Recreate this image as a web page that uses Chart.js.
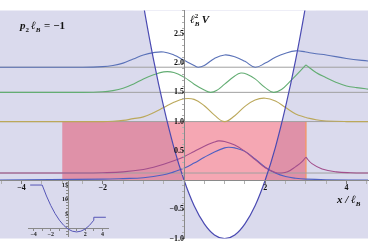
<!DOCTYPE html>
<html><head><meta charset="utf-8">
<script src="https://cdn.jsdelivr.net/npm/chart.js@4"></script>
<style>
html,body{margin:0;padding:0;background:#fff;}
#wrap{position:relative;width:374px;height:243px;overflow:hidden;}
#main{position:absolute;left:0;top:0;}
#inset{position:absolute;left:26px;top:179px;}
</style></head><body>
<div id="wrap"><canvas id="main" width="374" height="243"></canvas><canvas id="inset" width="84" height="62"></canvas></div>
<script>
const FONT = '"Liberation Serif", "DejaVu Serif", serif';

// ---- main panel data (x / ℓB, ℓB² V) ----
const potX = [-1.25,-1,-0.75,-0.5,-0.25,0,0.25,0.5,0.75,1,1.25,1.5,1.75,2,2.25,2.5,2.75,3,3.25];
const potV = [4.06,3,2.06,1.25,0.56,0,-0.44,-0.75,-0.94,-1,-0.94,-0.75,-0.44,0,0.56,1.25,2.06,3,4.06];

const levelValues = [1.93, 1.5, 1.0, 0.12];

const blueTopX = [-4.6,-2.5,-2,-1.75,-1.5,-1.25,-1,-0.75,-0.5,-0.25,0,0.25,0.35,0.5,0.75,1,1.25,1.5,1.75,2,2.25,2.5,2.75,3,3.25,3.5,4,4.6];
const blueTopY = [1.93,1.93,1.94,1.96,2.0,2.07,2.14,2.18,2.19,2.14,2.05,1.96,1.93,1.96,2.08,2.14,2.11,2.03,1.93,2.0,2.1,2.17,2.21,2.19,2.16,2.14,2.08,2.03];

const greenX = [-4.6,-2.5,-2,-1.75,-1.5,-1.25,-1,-0.75,-0.5,-0.25,0,0.25,0.5,0.65,0.8,1,1.25,1.4,1.55,1.75,2,2.2,2.4,2.6,2.8,3,3.25,3.5,3.75,4,4.25,4.6];
const greenY = [1.5,1.5,1.51,1.53,1.57,1.64,1.73,1.8,1.85,1.84,1.76,1.64,1.54,1.5,1.53,1.64,1.78,1.83,1.81,1.73,1.58,1.5,1.55,1.68,1.82,1.97,1.84,1.75,1.67,1.61,1.58,1.55];

const yellowX = [-4.6,-2,-1.75,-1.5,-1.25,-1,-0.75,-0.5,-0.25,0,0.25,0.5,0.75,1,1.25,1.5,1.75,2,2.25,2.5,2.75,3,3.25,3.5,4,4.6];
const yellowY = [1.0,1.0,1.005,1.02,1.05,1.08,1.15,1.24,1.33,1.39,1.38,1.27,1.11,1.0,1.1,1.26,1.37,1.4,1.35,1.24,1.13,1.07,1.03,1.01,1.0,1.0];

const magentaX = [-4.6,-2.5,-2,-1.5,-1,-0.75,-0.5,-0.25,0,0.25,0.5,0.75,0.85,1,1.25,1.5,1.75,2,2.25,2.4,2.55,2.75,2.9,3,3.15,3.4,3.75,4.1,4.6];
const magentaY = [0.12,0.12,0.125,0.14,0.18,0.22,0.27,0.33,0.4,0.49,0.58,0.65,0.67,0.66,0.6,0.49,0.35,0.21,0.13,0.12,0.14,0.23,0.31,0.39,0.28,0.19,0.14,0.125,0.12];

const blueLowX = [-4.6,-2,-1.5,-1,-0.5,-0.25,0,0.25,0.5,0.75,1,1.1,1.25,1.5,1.75,2,2.25,2.5,2.75,3,3.5,4.6];
const blueLowY = [0.0,0.015,0.025,0.04,0.09,0.14,0.2,0.29,0.39,0.48,0.55,0.56,0.55,0.49,0.36,0.22,0.12,0.06,0.03,0.015,0.005,0.0];

const rectX = [-3,-3,3,3];
const rectY = [0,1,1,0];

const xTickValues = [-4,-2,2,4];
const xTickLabels = ['−4','−2','2','4'];
const yTickValues = [-1,-0.5,0.5,1,1.5,2,2.5];
const yTickLabels = ['−1.0','−0.5','0.5','1.0','1.5','2.0','2.5'];

// ---- inset data (V vs x) ----
const insetX = [-4.4,-3,-2.5,-2,-1.5,-1,-0.5,0,0.5,1,1.5,2,2.5,3,3,4.4];
const insetV = [15,15,11.25,8,5.25,3,1.25,0,-0.75,-1,-0.75,0,1.25,3,4,4];
const insetXTickValues = [-4,-2,2,4];
const insetXTickLabels = ['−4','−2','2','4'];
const insetYTickValues = [5,10,15];
const insetYTickLabels = ['5','10','15'];

// ---- helpers ----
function pts(xs, ys){ return xs.map((x,i)=>({x:x, y:ys[i]})); }
function split(xs, ys, xc){
  const a=[], b=[];
  xs.forEach((x,i)=>{ if(x<=xc) a.push({x:x,y:ys[i]}); if(x>=xc) b.push({x:x,y:ys[i]}); });
  return [a,b];
}
function labelFor(v, vals, labs){
  for(let i=0;i<vals.length;i++){ if(Math.abs(v-vals[i])<1e-6) return labs[i]; }
  return '';
}
function isMajor(v, vals){ return vals.some(t=>Math.abs(t-v)<1e-6); }
function curve(data, color, order){
  return {data:data, borderColor:color, borderWidth:1.1, pointRadius:0, tension:0.4, fill:false, order:order};
}
const zeroPad = s => { s.paddingLeft=0; s.paddingRight=0; s.paddingTop=0; s.paddingBottom=0; };

const C = {
  lav:'#dadaed', parab:'#4a4ab2', blueTop:'#5a72b8', green:'#63ad73', yellow:'#bba85a',
  magenta:'#a24e8c', blueLow:'#4e60c2', level:'#a0a0a0', rect:'rgba(232,45,75,0.42)', axis:'#8a8a8a'
};

const datasets = [];
datasets.push({data:pts(potX,potV), borderColor:C.parab, borderWidth:1.2, pointRadius:0, tension:0.4, fill:false, order:5});
split(blueTopX, blueTopY, 3).forEach(d=>datasets.push(curve(d, C.blueTop, 20)));
split(greenX, greenY, 3).forEach(d=>datasets.push(curve(d, C.green, 21)));
split(yellowX, yellowY, 3).forEach(d=>datasets.push(curve(d, C.yellow, 22)));
split(magentaX, magentaY, 3).forEach(d=>datasets.push(curve(d, C.magenta, 23)));
datasets.push(curve(pts(blueLowX, blueLowY), C.blueLow, 24));
levelValues.forEach(L=>datasets.push({data:[{x:-4.6,y:L},{x:4.6,y:L}], borderColor:C.level, borderWidth:1, pointRadius:0, fill:false, order:60}));
datasets.push({data:pts(rectX,rectY), borderWidth:1, pointRadius:0, tension:0, fill:'origin', backgroundColor:C.rect,
  borderColor:'rgba(0,0,0,0)',
  segment:{borderColor: ctx => ctx.p0DataIndex===2 ? 'rgba(240,150,110,0.8)' : 'rgba(0,0,0,0)'}, order:80});
datasets.push({data:pts(potX,potV), borderWidth:0, borderColor:'rgba(0,0,0,0)', pointRadius:0, tension:0.4, fill:'end', backgroundColor:'#ffffff', order:100});

function richText(ctx, x, y, parts){
  let cx = x;
  parts.forEach(p=>{
    ctx.font = p[1];
    ctx.fillText(p[0], cx, y + (p[2]||0));
    cx += ctx.measureText(p[0]).width + (p[3]||0);
  });
  return cx;
}

const BI = 'italic bold 11px ' + FONT, B = 'bold 11px ' + FONT, SI = 'italic bold 7px ' + FONT, S = 'bold 7px ' + FONT;

const decor = {
  id:'decor',
  beforeDraw(chart){
    const ctx = chart.ctx, a = chart.chartArea;
    ctx.save(); ctx.fillStyle = C.lav; ctx.fillRect(a.left, a.top, a.right-a.left, a.bottom-a.top); ctx.restore();
  },
  afterDraw(chart){
    const ctx = chart.ctx;
    ctx.save(); ctx.fillStyle = '#111'; ctx.textBaseline = 'alphabetic'; ctx.textAlign = 'left';
    richText(ctx, 20, 29, [['p',BI],['2',S,2.5,2],['ℓ',BI],['B',SI,2.5,1],[' = −1',B]]);
    // y axis title
    ctx.font = BI; ctx.fillText('ℓ', 190, 23);
    let x1 = 190 + ctx.measureText('ℓ').width;
    ctx.font = S; ctx.fillText('2', x1, 17.5);
    ctx.font = SI; ctx.fillText('B', x1, 26);
    ctx.font = BI; ctx.fillText('V', x1 + 7, 23);
    // x axis title
    richText(ctx, 337, 203, [['x / ℓ',BI],['B',SI,2.5]]);
    ctx.restore();
  }
};

const tickFont = {family:FONT, size:8, weight:'bold'};

new Chart(document.getElementById('main'), {
  type:'line',
  data:{datasets:datasets},
  options:{
    responsive:false, animation:false, devicePixelRatio:1,
    layout:{padding:{left:0, right:6, top:10.5, bottom:4.5}},
    plugins:{legend:{display:false}, tooltip:{enabled:false}},
    scales:{
      x:{type:'linear', min:-4.53, max:4.53, position:{y:0},
        border:{color:C.axis, width:1, z:1},
        grid:{drawOnChartArea:false, drawTicks:true, tickLength:3, z:1,
              tickColor: ctx => isMajor(ctx.tick.value, xTickValues) ? '#777' : '#b0b0b0'},
        ticks:{z:1, stepSize:0.5, includeBounds:false, autoSkip:false, maxRotation:0, padding:0, color:'#111', font:tickFont,
               callback: v => labelFor(v, xTickValues, xTickLabels)},
        afterFit: zeroPad},
      y:{type:'linear', min:-1.0, max:2.9, position:{x:0},
        border:{color:C.axis, width:1, z:1},
        grid:{drawOnChartArea:false, drawTicks:true, tickLength:2, z:1,
              tickColor: ctx => isMajor(ctx.tick.value, yTickValues) ? '#777' : '#b0b0b0'},
        ticks:{z:1, stepSize:0.1, includeBounds:false, autoSkip:false, padding:1, color:'#111', font:tickFont,
               callback: v => labelFor(v, yTickValues, yTickLabels)},
        afterFit: zeroPad}
    }
  },
  plugins:[decor]
});

const insetFont = {family:FONT, size:6, weight:'bold'};
new Chart(document.getElementById('inset'), {
  type:'line',
  data:{datasets:[{data:pts(insetX, insetV), borderColor:'#5555b6', borderWidth:1, pointRadius:0, tension:0, fill:false}]},
  options:{
    responsive:false, animation:false, devicePixelRatio:1,
    layout:{padding:{left:2, right:2, top:2, bottom:5}},
    plugins:{legend:{display:false}, tooltip:{enabled:false}},
    scales:{
      x:{type:'linear', min:-4.65, max:4.65, position:{y:0},
        border:{color:C.axis, width:1},
        grid:{drawOnChartArea:false, drawTicks:true, tickLength:2, tickColor:'#888'},
        ticks:{stepSize:1, includeBounds:false, autoSkip:false, maxRotation:0, padding:0, color:'#222', font:insetFont,
               callback: v => labelFor(v, insetXTickValues, insetXTickLabels)},
        afterFit: zeroPad},
      y:{type:'linear', min:-2.39, max:16.38, position:{x:0},
        border:{color:C.axis, width:1},
        grid:{drawOnChartArea:false, drawTicks:true, tickLength:2, tickColor:'#888'},
        ticks:{stepSize:1, includeBounds:false, autoSkip:false, padding:1, color:'#222', font:insetFont,
               callback: v => labelFor(v, insetYTickValues, insetYTickLabels)},
        afterFit: zeroPad}
    }
  }
});
</script>
</body></html>
